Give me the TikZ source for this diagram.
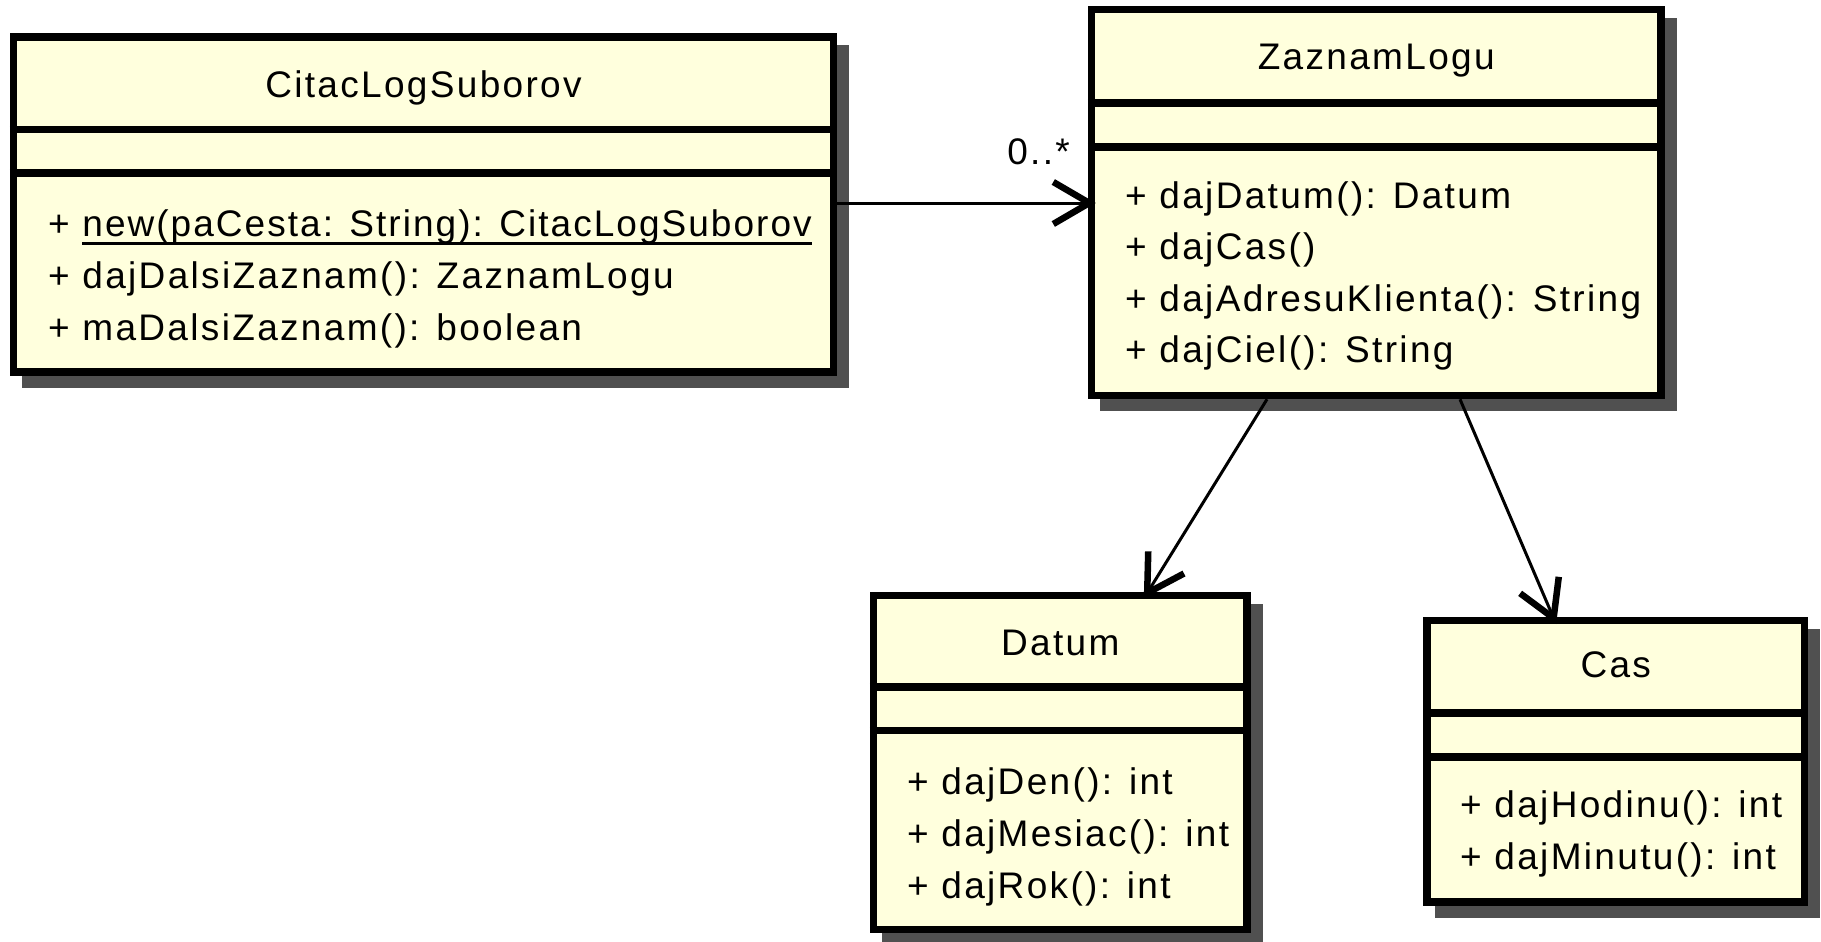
\documentclass[tikz,border=0pt]{standalone}
\usepackage{fontspec}
\setmainfont{Liberation Sans}[LetterSpace=6.3]
\usetikzlibrary{arrows.meta}
\definecolor{classfill}{HTML}{FFFFDD}
\definecolor{shade}{HTML}{505050}
% underline a piece of text with a rule just under the baseline
\newcommand\ulinetext[1]{\setbox0=\hbox{#1}\rlap{\rule[-8.5pt]{\wd0}{3pt}}\box0}

\begin{document}
\begin{tikzpicture}[x=1pt,y=-1pt,
  classbox/.style={draw=black, line width=7.5pt, fill=classfill, inner sep=0pt,
    preaction={draw=shade, fill=shade, transform canvas={xshift=12pt, yshift=-12pt}}},
  sepline/.style={line width=7.5pt, draw=black},
  ctitle/.style={anchor=base, inner sep=0pt, font=\fontsize{37}{44}\selectfont},
  meth/.style={anchor=base west, inner sep=0pt, font=\fontsize{37}{44}\selectfont},
  assoc/.style={line width=3pt, -{Straight Barb[length=36pt,width=42pt,line width=6.5pt]}, shorten >=-8pt},
]
\fill[white] (0,0) rectangle (1821,942);
\useasboundingbox (0,0) rectangle (1821,942);

% class boxes (with drop shadows)
\node[classbox, minimum width=820pt,   minimum height=335pt]   (c1) at (423.5,204.5) {};
\node[classbox, minimum width=569.5pt, minimum height=386pt]   (c2) at (1376.25,202.5) {};
\node[classbox, minimum width=373.5pt, minimum height=334pt]   (c3) at (1060.25,762.5) {};
\node[classbox, minimum width=377.5pt, minimum height=281.5pt] (c4) at (1615.75,761.25) {};

% compartment separators
\draw[sepline] (c1.west |- 0,129.5) -- (c1.east |- 0,129.5);
\draw[sepline] (c1.west |- 0,173)   -- (c1.east |- 0,173);
\draw[sepline] (c2.west |- 0,103)   -- (c2.east |- 0,103);
\draw[sepline] (c2.west |- 0,147)   -- (c2.east |- 0,147);
\draw[sepline] (c3.west |- 0,687)   -- (c3.east |- 0,687);
\draw[sepline] (c3.west |- 0,730.5) -- (c3.east |- 0,730.5);
\draw[sepline] (c4.west |- 0,713)   -- (c4.east |- 0,713);
\draw[sepline] (c4.west |- 0,757)   -- (c4.east |- 0,757);

% CitacLogSuborov
\node[ctitle] (c1t) at (423.5,97) {CitacLogSuborov};
\node[meth] (c1m1) at (48,236) {+ \addfontfeature{LetterSpace=5.5}\ulinetext{new(paCesta: String): CitacLogSuborov}};
\node[meth] (c1m2) at (48,288) {+ dajDalsiZaznam(): ZaznamLogu};
\node[meth] (c1m3) at (48,340) {+ maDalsiZaznam(): boolean};

% ZaznamLogu
\node[ctitle] (c2t) at (1376.25,70) {ZaznamLogu};
\node[meth] (c2m1) at (1125,208)   {+ dajDatum(): Datum};
\node[meth] (c2m2) at (1125,259.5) {+ dajCas()};
\node[meth] (c2m3) at (1125,311)   {+ dajAdresuKlienta(): String};
\node[meth] (c2m4) at (1125,362.5) {+ dajCiel(): String};

% Datum
\node[ctitle] (c3t) at (1060.25,655) {Datum};
\node[meth] (c3m1) at (907,794) {+ dajDen(): int};
\node[meth] (c3m2) at (907,846) {+ dajMesiac(): int};
\node[meth] (c3m3) at (907,898) {+ dajRok(): int};

% Cas
\node[ctitle] (c4t) at (1615.75,677.5) {Cas};
\node[meth] (c4m1) at (1460,817) {+ dajHodinu(): int};
\node[meth] (c4m2) at (1460,869) {+ dajMinutu(): int};

% associations
\draw[assoc] (c1.east |- 0,203) -- (c2.west |- 0,203);
\node[meth, anchor=base east] (mult) at (1070,164) {0..*};
\draw[assoc] (c2.south -| 1267,0) -- (c3.north -| 1148,0);
\draw[assoc] (c2.south -| 1460,0) -- (c4.north -| 1553,0);
\end{tikzpicture}
\end{document}
